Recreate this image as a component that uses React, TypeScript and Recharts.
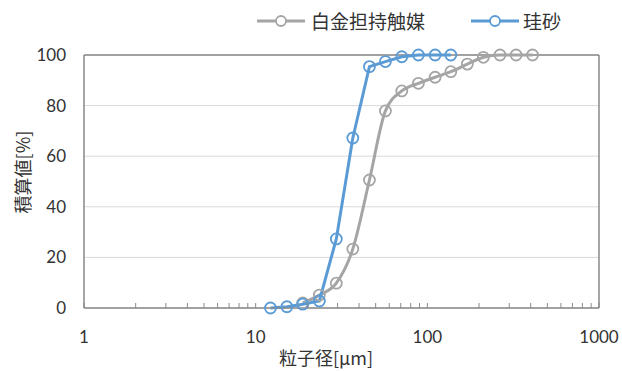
import { LineChart, Line, XAxis, YAxis, CartesianGrid, ReferenceLine } from "recharts";

// 白金担持触媒 (gray)
const catalystSize = [18.8, 23.5, 29.5, 36.8, 46, 57, 71, 88.7, 111, 137, 171, 212, 265, 329, 410];
const catalystCum = [2.0, 5.1, 9.8, 23.3, 50.6, 77.9, 85.8, 88.8, 91.2, 93.4, 96.4, 99.1, 100, 100, 100];

// 珪砂 (blue)
const sandSize = [12.2, 15.2, 18.8, 23.5, 29.5, 36.8, 46, 57, 71, 88.7, 111, 137];
const sandCum = [0, 0.5, 1.5, 2.8, 27.3, 67.2, 95.4, 97.4, 99.3, 100, 100, 100];

const majorTicks = [1, 10, 100, 1000];
const minorTicks = [2, 3, 4, 5, 6, 7, 8, 9, 20, 30, 40, 50, 60, 70, 80, 90, 200, 300, 400, 500, 600, 700, 800, 900];
const yTicks = [0, 20, 40, 60, 80, 100];

const GRAY = "#a5a5a5";
const BLUE = "#5b9bd5";
const AXIS = "#898989";
const NUM_FONT = "Lato, 'Open Sans', sans-serif";
const JP_FONT = "'Noto Sans CJK JP', sans-serif";

const catalystData = catalystSize.map((x, i) => ({ x, y: catalystCum[i] }));
const sandData = sandSize.map((x, i) => ({ x, y: sandCum[i] }));
const allTicks = [...majorTicks, ...minorTicks].sort((a, b) => a - b);

const XTick = (props: any) => {
  const { x, y, payload } = props;
  const v = payload.value;
  return (
    <g>
      <line x1={x} x2={x} y1={y} y2={y - 5} stroke={AXIS} strokeWidth={1} />
      {majorTicks.includes(v) && (
        <text x={x} y={y + 35} textAnchor="middle" fontSize={17} fontFamily={NUM_FONT} fill="#333">
          {v}
        </text>
      )}
    </g>
  );
};

const LegendIcon = ({ color }: { color: string }) => (
  <svg width={48} height={14} style={{ display: "block" }}>
    <line x1={0} x2={48} y1={7} y2={7} stroke={color} strokeWidth={3} />
    <circle cx={24} cy={7} r={5} fill="#fff" stroke={color} strokeWidth={1.8} />
  </svg>
);

export default function App() {
  return (
    <div style={{ position: "absolute", left: 0, top: 0, width: 622, height: 371, background: "#fff" }}>
      <div
        style={{
          position: "absolute",
          top: 9,
          left: 257,
          display: "flex",
          alignItems: "center",
          fontFamily: JP_FONT,
          fontSize: 19,
          color: "#333",
          lineHeight: "24px",
        }}
      >
        <LegendIcon color={GRAY} />
        <span style={{ marginLeft: 6, marginRight: 46 }}>白金担持触媒</span>
        <LegendIcon color={BLUE} />
        <span style={{ marginLeft: 4 }}>珪砂</span>
      </div>
      <LineChart width={622} height={371} margin={{ top: 55, right: 23, bottom: 23, left: 20 }}>
        <CartesianGrid horizontal vertical={false} stroke="#d9d9d9" strokeWidth={1} />
        <XAxis
          dataKey="x"
          type="number"
          scale="log"
          domain={[1, 1000]}
          allowDataOverflow
          ticks={allTicks}
          interval={0}
          tick={<XTick />}
          tickLine={false}
          tickSize={0}
          tickMargin={0}
          height={40}
          axisLine={{ stroke: AXIS, strokeWidth: 1.5 }}
        />
        <YAxis
          type="number"
          domain={[0, 100]}
          ticks={yTicks}
          width={64}
          tickLine={false}
          tickSize={0}
          tickMargin={18}
          axisLine={{ stroke: AXIS, strokeWidth: 1.5 }}
          tick={{ fontSize: 17, fontFamily: NUM_FONT, fill: "#333" }}
        />
        <ReferenceLine y={100} stroke={AXIS} strokeWidth={1.5} />
        <ReferenceLine x={1000} stroke={AXIS} strokeWidth={1.5} />
        <Line
          data={catalystData}
          dataKey="y"
          type="monotone"
          stroke={GRAY}
          strokeWidth={3}
          dot={{ r: 5.5, fill: "none", stroke: GRAY, strokeWidth: 1.8 }}
          isAnimationActive={false}
        />
        <Line
          data={sandData}
          dataKey="y"
          type="linear"
          stroke={BLUE}
          strokeWidth={3}
          dot={{ r: 5.5, fill: "none", stroke: BLUE, strokeWidth: 1.8 }}
          isAnimationActive={false}
        />
        <text
          x={22}
          y={172}
          transform="rotate(-90 22 172)"
          textAnchor="middle"
          dominantBaseline="central"
          fontSize={18}
          fontFamily={JP_FONT}
          fill="#333"
        >
          積算値[%]
        </text>
        <text x={326} y={357} textAnchor="middle" dominantBaseline="central" fontSize={18} fontFamily={JP_FONT} fill="#333">
          粒子径[μm]
        </text>
      </LineChart>
    </div>
  );
}
